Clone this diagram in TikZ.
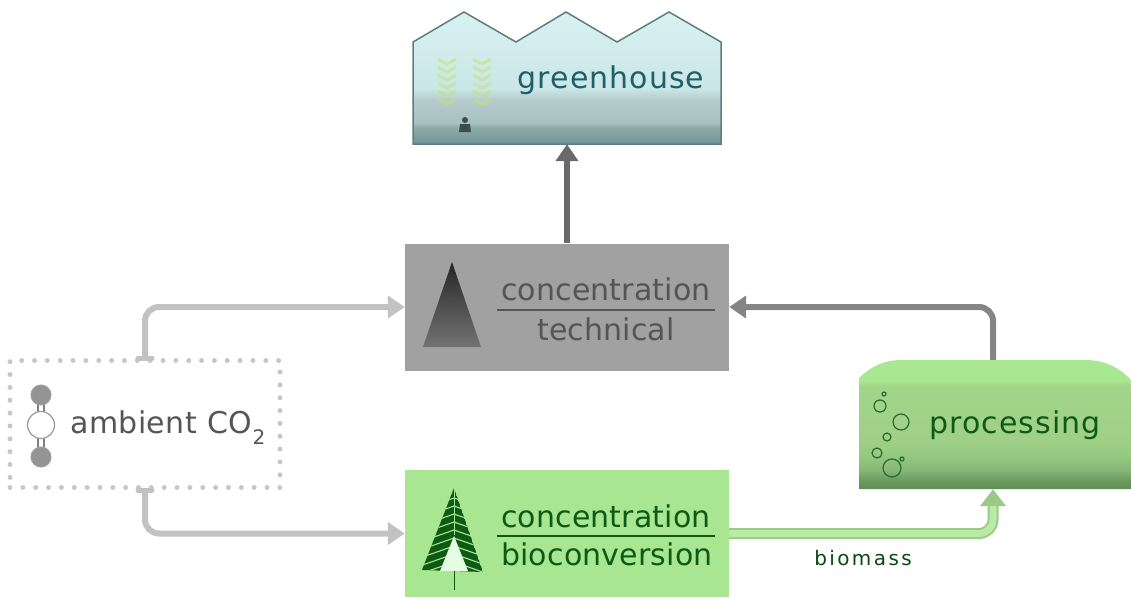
\documentclass[tikz,border=0pt]{standalone}
\usepackage{fontspec}
\setmainfont{DejaVu Sans}
\newfontfamily\spA[LetterSpace=3.5]{DejaVu Sans}
\newfontfamily\spC[LetterSpace=0.6]{DejaVu Sans}
\newfontfamily\spD[LetterSpace=1.5]{DejaVu Sans}
\newfontfamily\spB[LetterSpace=12]{DejaVu Sans}
\usetikzlibrary{arrows.meta}
\definecolor{techfill}{HTML}{A1A1A1}
\definecolor{biofill}{HTML}{A8E691}
\definecolor{biotext}{HTML}{0C5A14}
\definecolor{techtext}{HTML}{555555}
\definecolor{ghtext}{HTML}{1F5F66}
\definecolor{pale}{HTML}{C2C2C2}
\definecolor{midg}{HTML}{858585}
\definecolor{darkg}{HTML}{6A6A6A}
\definecolor{pa}{RGB}{96,140,84}
\definecolor{pb}{RGB}{108,156,94}
\definecolor{pc}{RGB}{136,184,120}
\definecolor{pd}{RGB}{148,201,128}
\definecolor{pe}{RGB}{160,208,136}
\definecolor{pf}{RGB}{162,212,138}
\definecolor{pg}{RGB}{168,232,145}
\definecolor{ga}{RGB}{111,147,147}
\definecolor{gb}{RGB}{127,161,160}
\definecolor{gc}{RGB}{143,171,170}
\definecolor{gd}{RGB}{168,192,192}
\definecolor{ge}{RGB}{180,204,204}
\definecolor{gf}{RGB}{203,230,232}
\definecolor{gg}{RGB}{216,242,242}
\pgfdeclareverticalshading{procshade}{100bp}{color(0bp)=(pa); color(25bp)=(pa); color(28.5bp)=(pb); color(32.4bp)=(pc); color(38bp)=(pd); color(44bp)=(pe); color(65bp)=(pf); color(67bp)=(pg); color(100bp)=(pg)}
\pgfdeclareverticalshading{ghshade}{100bp}{color(0bp)=(ga); color(25bp)=(ga); color(28.4bp)=(gb); color(31.4bp)=(gc); color(33bp)=(gd); color(41.7bp)=(ge); color(46bp)=(gf); color(75bp)=(gg); color(100bp)=(gg)}
\tikzset{
  x=1pt,y=-1pt,
  bigtext/.style={font=\fontsize{30}{36}\selectfont\spA,anchor=base,inner sep=0pt},
  boxtext/.style={font=\fontsize{30}{36}\selectfont\spC,anchor=base,inner sep=0pt},
  boxnode/.style={minimum width=324pt,minimum height=127pt,inner sep=0pt,draw=none},
  paleline/.style={draw=pale,line width=6pt,rounded corners=14pt,-{Triangle[length=17pt,width=22pt]}},
  midline/.style={draw=midg,line width=6pt,rounded corners=14pt,-{Triangle[length=17pt,width=22pt]}},
  darkline/.style={draw=darkg,line width=6pt,-{Triangle[length=17pt,width=22pt]}},
  greenouter/.style={draw=biofill!85!black!90!white,line width=11pt,rounded corners=14pt,-{Triangle[length=17pt,width=25pt]}},
  greeninner/.style={draw=biofill!80!white,line width=7pt,rounded corners=14pt,shorten >=17pt},
  bubble/.style={draw=biotext!90!white,line width=1.2pt},
  plantmark/.style={draw=yellow!60!green!60!white,line width=3pt,opacity=.55},
}
\begin{document}
\begin{tikzpicture}
\useasboundingbox (0,0) rectangle (1131,597);
% greenhouse
\path[shading=ghshade,draw=none] (413,42)--(464,12)--(516,42)--(566,12)--(617,42)--(669,12)--(721,42)--(721,144)--(413,144)--cycle;
\draw[draw=ga!85!black,line width=1.5pt,line join=miter] (413,42)--(464,12)--(516,42)--(566,12)--(617,42)--(669,12)--(721,42)--(721,144)--(413,144)--cycle;
\node[minimum width=308pt,minimum height=102pt,inner sep=0pt] (gh) at (567,93) {};
\foreach \px in {447,482}{\foreach \py in {62,70,...,102}{
  \draw[plantmark] (\px-9,\py-3)--(\px,\py+2)--(\px+9,\py-3);}}
\fill[black!55!ghtext!60!gray] (465,120) circle (3) (459,132)--(460,124)--(470,124)--(471,132)--cycle;
\node[bigtext,text=ghtext] (ghl) at (611,88) {greenhouse};
% technical
\node[boxnode,fill=techfill] (tech) at (567,307) {};
\shade[top color=black!85,bottom color=black!55] (452,262)--(423,347)--(481,347)--cycle;
\node[boxtext,text=techtext] (t1) at (606,300) {concentration};
\node[boxtext,text=techtext] (t2) at (606,340) {technical};
\draw[techtext,line width=1.2pt] (497,310)--(715,310);
% bioconversion
\node[boxnode,fill=biofill] (bio) at (567,533.5) {};
\begin{scope}
\clip (454,488)--(422,570)--(483,572)--cycle;
\fill[biotext] (454,488)--(422,570)--(483,572)--cycle;
\foreach \py in {498,506,...,570}{
  \draw[biofill,line width=1.1pt] (454,\py)--+(-40,14) (454,\py)--+(40,14);}
\draw[biofill,line width=1pt] (454,488)--(454,535);
\end{scope}
\fill[green!8!white!92!biofill] (454,536)--(440,571)--(468,571)--cycle;
\draw[biotext,line width=1pt] (454,571)--(454,590);
\node[boxtext,text=biotext] (b1) at (606,527) {concentration};
\node[boxtext,text=biotext] (b2) at (607,565) {bioconversion};
\draw[biotext,line width=1.2pt] (497,536)--(715,536);
% processing
\path[shading=procshade] (859,489)--(859,378) .. controls (871,366) and (885,360) .. (902,360)--(1085,360) .. controls (1105,360) and (1120,368) .. (1131,380)--(1131,489)--cycle;
\node[minimum width=272pt,minimum height=129pt,inner sep=0pt] (proc) at (995,424.5) {};
\node[bigtext,text=biotext] (pl) at (1015,433) {processing};
\foreach \bx/\by/\br in {884/394/2,880/406/6,901/422/8,887/437/4,877/453/5,892/468/9,902/459/2}
  \draw[bubble] (\bx,\by) circle (\br);
% ambient
\node[minimum width=270pt,minimum height=127pt,inner sep=0pt,draw=black!22,line width=5pt,line cap=round,dash pattern=on 0pt off 12.85pt] (amb) at (145,424) {};
\draw[black!50,line width=1.2pt] (38,405)--(38,416) (44,405)--(44,416) (38,435)--(38,448) (44,435)--(44,448);
\node[circle,draw=black!40,fill=white,line width=1.2pt,minimum size=27pt,inner sep=0pt] (oc) at (41,425) {};
\node[circle,draw=black!38,fill=black!42,line width=1pt,minimum size=20pt,inner sep=0pt] (o1) at (41,395) {};
\node[circle,draw=black!38,fill=black!42,line width=1pt,minimum size=20pt,inner sep=0pt] (o2) at (41,457) {};
\node[font=\fontsize{30}{36}\selectfont\spD,text=techtext,anchor=base west,inner sep=0pt] (al) at (70,433) {ambient CO};
\node[font=\fontsize{20}{24}\selectfont,text=techtext,anchor=base west,inner sep=0pt,yshift=-11pt,xshift=0pt] (al2) at (al.base east) {2};
% connectors
\draw[paleline] (amb.north) |- (tech.west);
\draw[paleline] (amb.south) |- (bio.west);
\draw[pale,line width=5pt,line cap=round] ([xshift=-7pt]amb.north)--([xshift=7pt]amb.north);
\draw[pale,line width=5pt,line cap=round] ([xshift=-7pt]amb.south)--([xshift=7pt]amb.south);
\draw[darkline] (tech.north) -- (gh.south);
\draw[midline] ([xshift=-2pt]proc.north) |- (tech.east);
\draw[greenouter] (bio.east) -| ([xshift=-2pt]proc.south);
\draw[greeninner] (bio.east) -| ([xshift=-2pt]proc.south);
\node[font=\fontsize{20}{24}\selectfont\spB,text=biotext!80!black,anchor=base,inner sep=0pt] (bm) at (863,565) {biomass};
\end{tikzpicture}
\end{document}
